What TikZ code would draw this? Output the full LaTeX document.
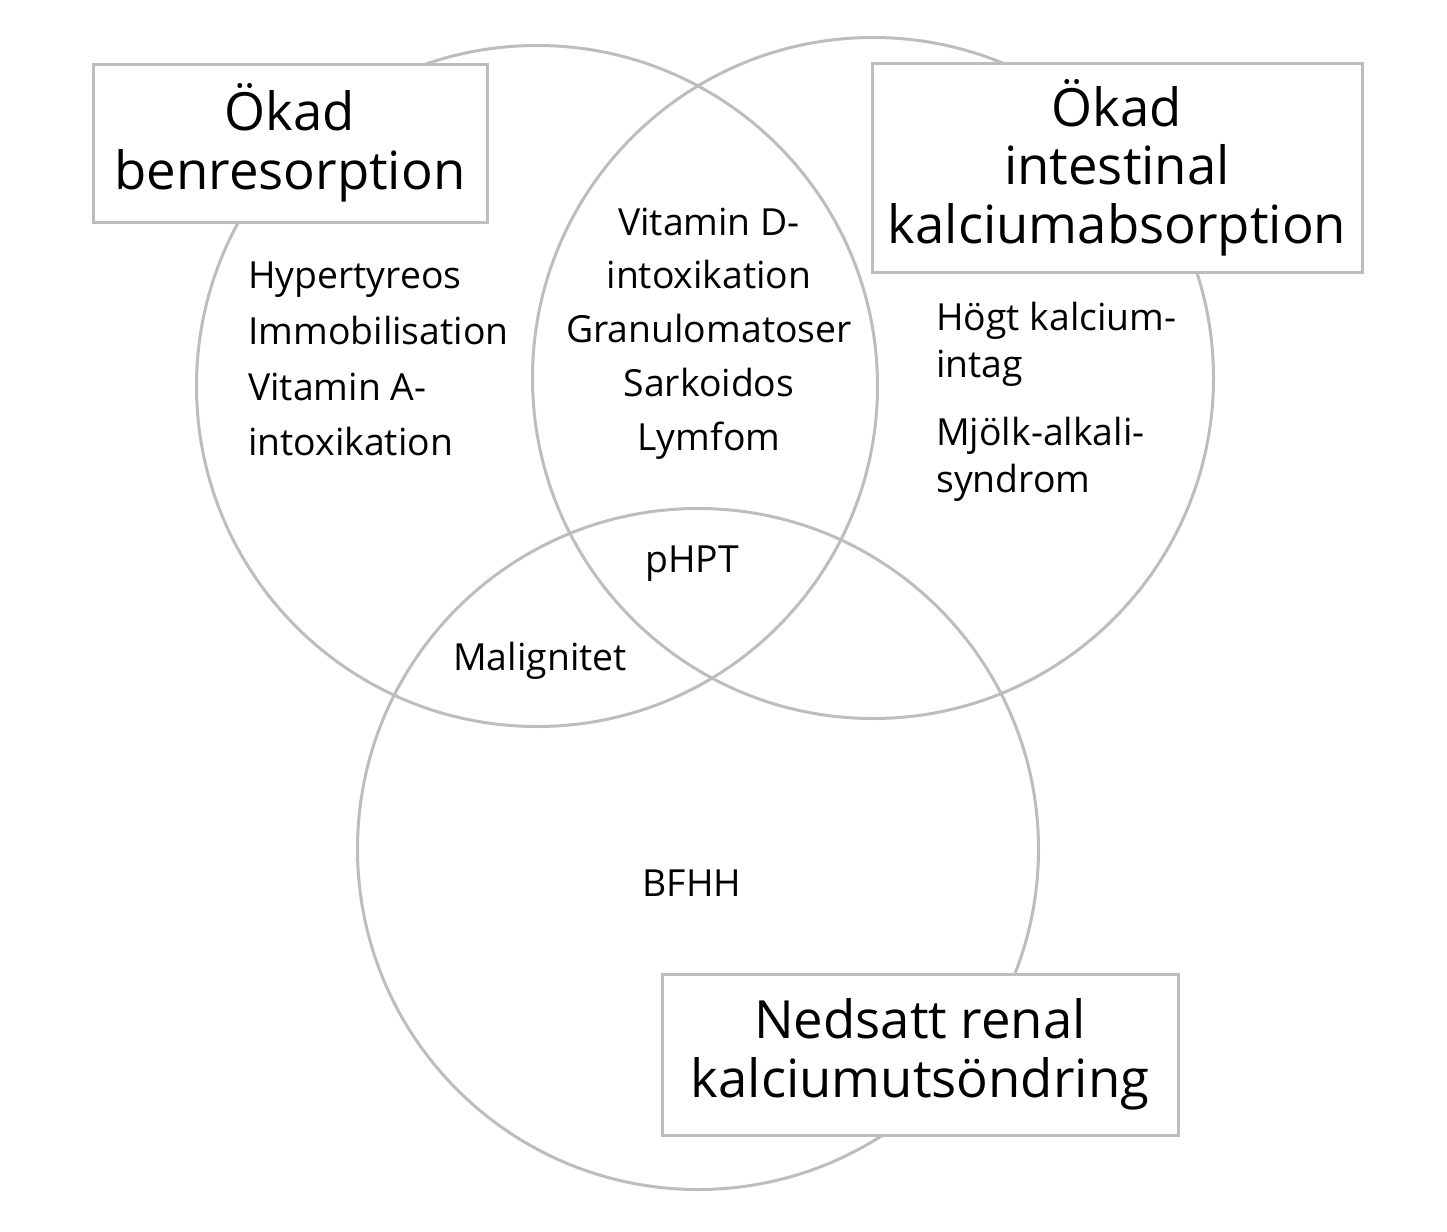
\documentclass[tikz,border=0pt]{standalone}
\usepackage{fontspec}
\setmainfont{Open Sans}
\usetikzlibrary{positioning}
\definecolor{Ring}{HTML}{BDBDBD}

\begin{document}
\begin{tikzpicture}[x=0.75pt,y=-0.75pt,
    ring/.style={circle,draw=Ring,line width=2.25pt,minimum size=510.75pt,inner sep=0pt},
    hd/.style={draw=Ring,fill=white,line width=2.25pt,align=center,inner sep=0pt,
      font=\fontsize{39.5}{44}\selectfont},
    tx/.style={inner sep=0pt,font=\fontsize{28}{41.8}\selectfont}]
  \useasboundingbox (0,0) rectangle (1447,1232);
  % the three circles
  \node[ring] (ben) at (537,386) {};
  \node[ring] (tarm) at (873,378) {};
  \node[ring] (njure) at (698,849) {};
  % headings
  \node[hd,minimum width=295.5pt,minimum height=118.5pt] (hben) at (290,143) {Ökad\\benresorption};
  \node[hd,minimum width=367.5pt,minimum height=156.75pt] (htarm) at (1117,167.5) {Ökad\\intestinal\\kalciumabsorption};
  \node[hd,minimum width=387pt,minimum height=120.75pt] (hnjure) at (920,1054.5) {Nedsatt renal\\kalciumutsöndring};
  % causes
  \node[tx,anchor=west,align=left] (lben) at (248,359) {Hypertyreos\\Immobilisation\\Vitamin A-\\intoxikation};
  \node[tx,align=center,font=\fontsize{28}{40.3}\selectfont] (lmitt) at (709,333.5) {Vitamin D-\\intoxikation\\Granulomatoser\\Sarkoidos\\Lymfom};
  \node[tx,anchor=west,align=left,font=\fontsize{28}{35.25}\selectfont] (lkalk) at (936,344.5) {Högt kalcium-\\intag};
  \node[tx,align=left,font=\fontsize{28}{35.25}\selectfont,below=22.5pt of lkalk.south west,anchor=north west] (lmjolk) {Mjölk-alkali-\\syndrom};
  \node[tx,anchor=base] (lphpt) at (692,572) {pHPT};
  \node[tx,anchor=base] (lmal) at (540,670) {Malignitet};
  \node[tx,anchor=base] (lbfhh) at (692,896) {BFHH};
\end{tikzpicture}
\end{document}
